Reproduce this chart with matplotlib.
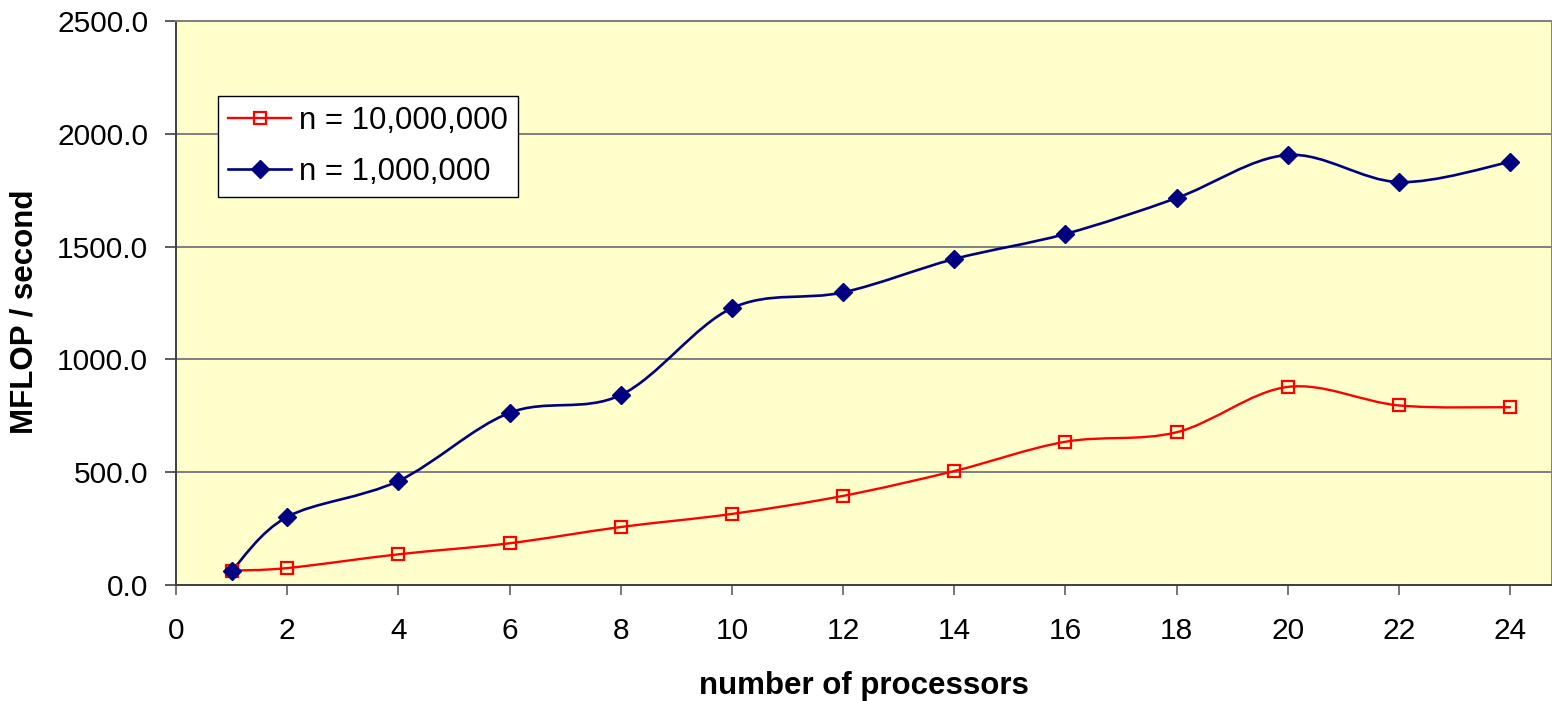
import matplotlib
matplotlib.use("Agg")
import matplotlib.pyplot as plt
import numpy as np
from matplotlib.lines import Line2D
from matplotlib.patches import PathPatch
from matplotlib.path import Path

plt.rcParams["font.family"] = ["Liberation Sans", "DejaVu Sans"]

processors = [1, 2, 4, 6, 8, 10, 12, 14, 16, 18, 20, 22, 24]
mflops_10m = [64, 75, 136, 185, 257, 315, 395, 505, 635, 677, 878, 796, 788]
mflops_1m = [62, 302, 461, 763, 842, 1227, 1297, 1445, 1556, 1715, 1906, 1786, 1875]

series_labels = ["n = 10,000,000", "n = 1,000,000"]
y_ticks = [0, 500, 1000, 1500, 2000, 2500]
x_ticks = list(range(0, 25, 2))


def smooth_path(xs, ys):
    """Bezier spline through the points (spreadsheet-style smoothed line)."""
    pts = np.column_stack([xs, ys]).astype(float)
    n = len(pts)
    verts = [pts[0]]
    codes = [Path.MOVETO]
    for i in range(n - 1):
        p0 = pts[i - 1] if i > 0 else pts[i]
        p1 = pts[i]
        p2 = pts[i + 1]
        p3 = pts[i + 2] if i + 2 < n else pts[i + 1]
        verts += [p1 + (p2 - p0) / 6.0, p2 - (p3 - p1) / 6.0, p2]
        codes += [Path.CURVE4] * 3
    return Path(verts, codes)


fig = plt.figure(figsize=(15.52, 7.01), dpi=100)
ax = fig.add_axes([176 / 1552, 1 - 585 / 701, 1 - 176 / 1552, (585 - 21) / 701])
ax.set_facecolor("#FFFFCC")

red = "#FF0000"
navy = "#000080"

ax.add_patch(PathPatch(smooth_path(processors, mflops_10m), fill=False,
                       edgecolor=red, lw=1.7, zorder=3, capstyle="round"))
ax.add_patch(PathPatch(smooth_path(processors, mflops_1m), fill=False,
                       edgecolor=navy, lw=1.9, zorder=4, capstyle="round"))
ax.plot(processors, mflops_10m, linestyle="none", marker="s", ms=8.6,
        mfc="none", mec=red, mew=1.6, zorder=5)
ax.plot(processors, mflops_1m, linestyle="none", marker="D", ms=9.4,
        mfc=navy, mec=navy, zorder=6)

ax.set_xlim(0, 1376 / ((1510 - 176) / 24))
ax.set_ylim(0, 2500)
ax.set_xticks(x_ticks)
ax.set_yticks(y_ticks)
ax.set_yticklabels([f"{v:.1f}" for v in y_ticks])
ax.yaxis.grid(True, color="#7F7F7F", lw=1.4)
ax.set_axisbelow(True)

for side in ["left", "bottom", "top", "right"]:
    ax.spines[side].set_color("#808080")
    ax.spines[side].set_linewidth(1.4)
ax.spines["left"].set_color("#404040")
ax.spines["bottom"].set_color("#404040")

ax.tick_params(axis="y", direction="out", length=8, width=1.2, color="#404040",
               labelsize=21.5, pad=12)
ax.tick_params(axis="x", direction="out", length=7, width=1.2, color="#606060",
               labelsize=21.5, pad=16)

ax.set_xlabel("number of processors", fontsize=22.5, fontweight="bold")
ax.xaxis.set_label_coords(0.5, (585 - 686) / 564)
ax.xaxis.label.set_va("center")
ax.set_ylabel("MFLOP / second", fontsize=22.5, fontweight="bold")
ax.yaxis.set_label_coords((25 - 176) / 1376, (585 - 312) / 564)
ax.yaxis.label.set_va("center")

handles = [
    Line2D([], [], color=red, lw=1.7, marker="s", ms=8.0, mfc="none", mec=red, mew=1.6),
    Line2D([], [], color=navy, lw=1.9, marker="D", ms=9.0, mfc=navy, mec=navy),
]
leg = ax.legend(handles, series_labels, loc="upper left",
                bbox_to_anchor=((218 - 176) / 1376, (585 - 96) / 564),
                borderaxespad=0, fontsize=22.5, frameon=True, fancybox=False,
                handlelength=2.0, handletextpad=0.25, labelspacing=0.66,
                borderpad=0.33)
leg.get_frame().set_edgecolor("black")
leg.get_frame().set_linewidth(1.0)
leg.get_frame().set_facecolor("white")
leg.get_frame().set_alpha(1.0)

fig.savefig("out.png", dpi=100)
